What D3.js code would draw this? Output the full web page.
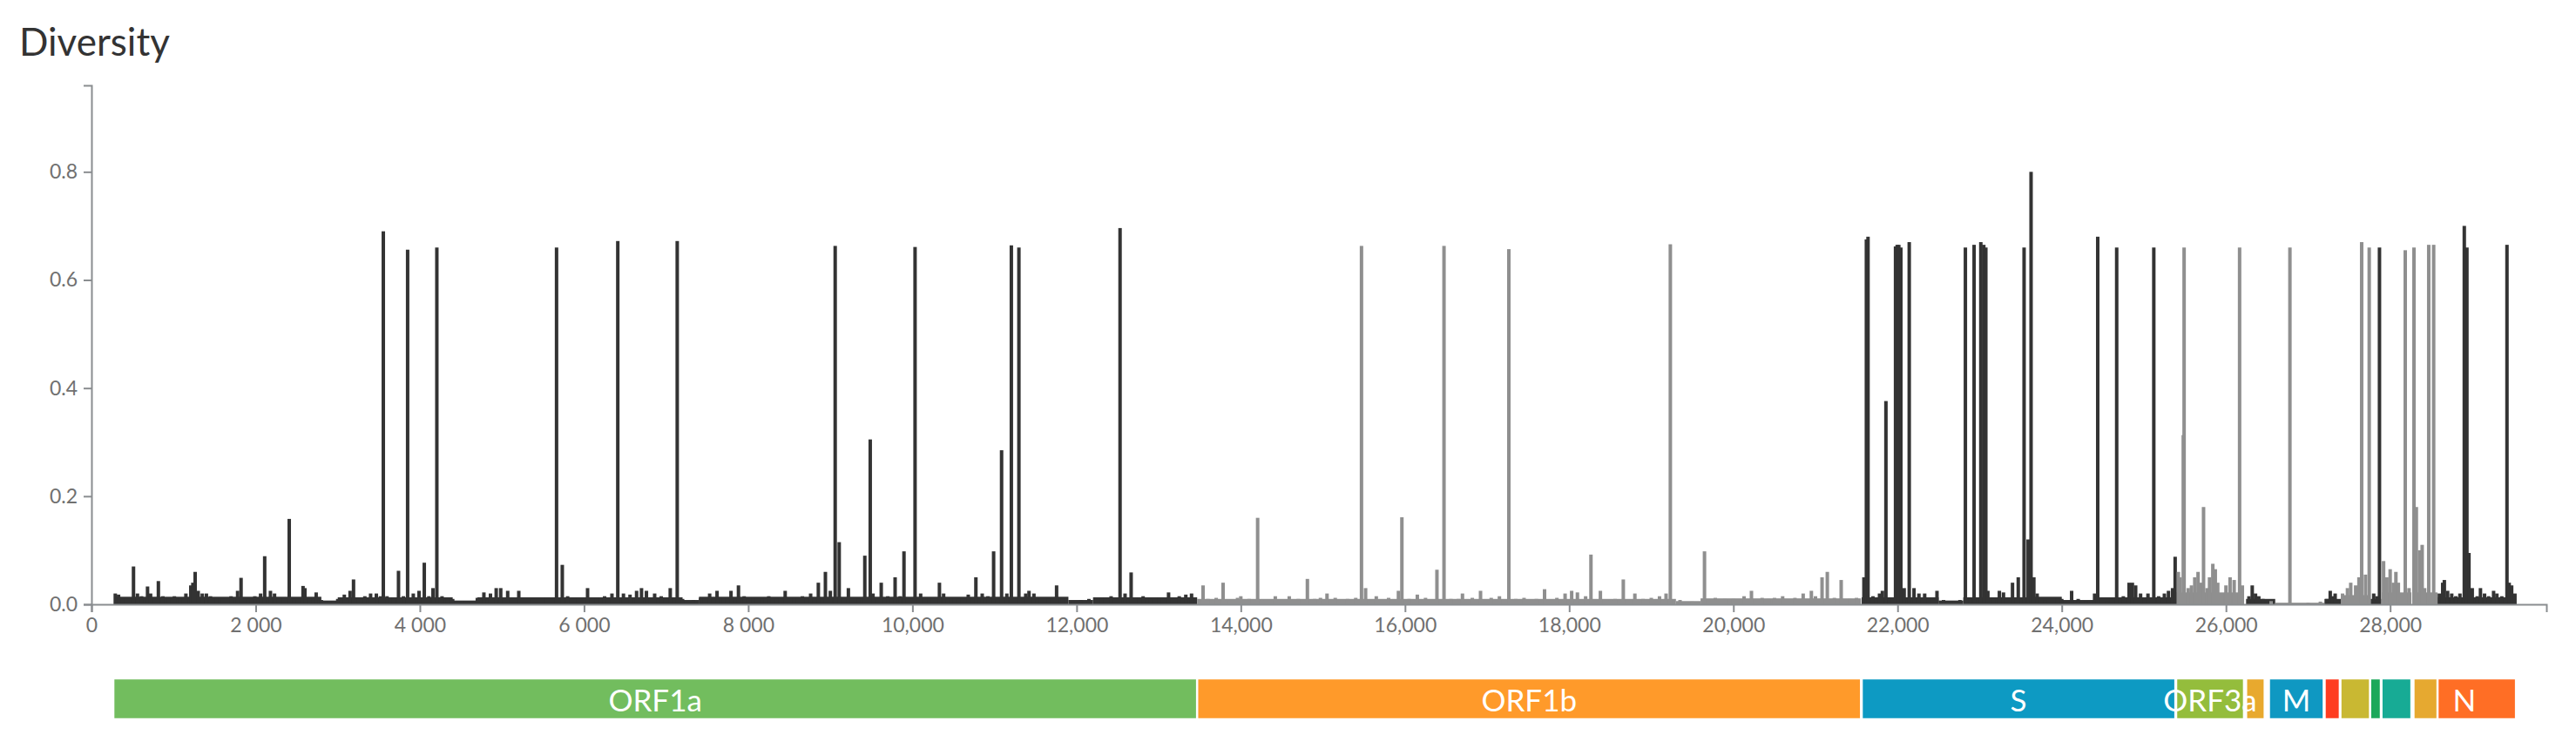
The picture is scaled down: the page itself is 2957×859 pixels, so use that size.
<!DOCTYPE html>
<html>
<head>
<meta charset="utf-8">
<script src="https://cdn.jsdelivr.net/npm/d3@7"></script>
<style>
  body { margin: 0; background: #fff; }
  #chart { width: 2957px; height: 859px; }
</style>
</head>
<body>
<div id="chart"></div>
<script>
// genome + gene annotations
const genomeLength = 29903;
const geneNames  = ["ORF1a", "ORF1b", "S", "ORF3a", "E", "M", "ORF6", "ORF7a", "ORF7b", "ORF8", "N", "ORF9b"];
const geneStart  = [266, 13468, 21563, 25393, 26245, 26523, 27202, 27394, 27756, 27894, 28274, 28284];
const geneEnd    = [13468, 21555, 25384, 26220, 26472, 27191, 27387, 27759, 27887, 28259, 29533, 28577];
const geneColors = ["#72bd5e", "#ff9a2a", "#0d9ac3", "#94bd3c", "#e8a92e", "#0f98c2", "#ff3d20", "#c9b832", "#1ca85a", "#17ab95", "#ff6e25", "#e6a930"];
const geneLabels = ["ORF1a", "ORF1b", "S", "ORF3a", "", "M", "", "", "", "", "N", ""];

// axis ticks
const xTicks = [0, 2000, 4000, 6000, 8000, 10000, 12000, 14000, 16000, 18000, 20000, 22000, 24000, 26000, 28000];
const xTickLabels = ["0", "2 000", "4 000", "6 000", "8 000", "10,000", "12,000", "14,000", "16,000", "18,000", "20,000", "22,000", "24,000", "26,000", "28,000"];
const yTicks = [0, 0.2, 0.4, 0.6, 0.8];
const yTickLabels = ["0.0", "0.2", "0.4", "0.6", "0.8"];

// low background level of diversity, by stretch of genome
const floorStart = [280, 2800, 3000, 4400, 4700, 7200, 7400, 11900, 12200, 13468, 19300, 19600, 21563, 22500, 22800, 23600, 24000, 24450, 25393, 26245, 26600, 27200, 27400, 27760, 27900, 28284, 28580];
const floorEnd   = [2800, 3000, 4400, 4700, 7200, 7400, 11900, 12200, 13468, 19300, 19600, 21555, 22500, 22800, 23600, 24000, 24450, 25384, 26220, 26600, 27200, 27400, 27760, 27890, 28259, 28577, 29530];
const floorVal   = [0.014, 0.007, 0.013, 0.007, 0.013, 0.008, 0.014, 0.008, 0.013, 0.010, 0.006, 0.011, 0.013, 0.007, 0.013, 0.014, 0.008, 0.013, 0.022, 0.010, 0.003, 0.010, 0.017, 0.010, 0.022, 0.022, 0.013];

// per-site diversity (entropy) bars
const sitePos = [
  290, 330, 380, 512, 560, 610, 683, 720, 815, 870, 940, 1010, 1080, 1150, 1210, 1235, 1263, 1300, 1350, 1400,
  1450, 1520, 1600, 1700, 1780, 1822, 1900, 1990, 2060, 2110, 2180, 2230, 2300, 2409, 2470, 2577, 2600, 2660, 2737, 2800,
  2900, 3000, 3080, 3150, 3192, 3250, 3330, 3400, 3470, 3520, 3555, 3600, 3680, 3740, 3800, 3851, 3920, 3990, 4054, 4110,
  4160, 4207, 4270, 4330, 4400, 4500, 4620, 4700, 4780, 4860, 4930, 4985, 5070, 5205, 5370, 5530, 5665, 5735, 5800, 5880,
  6043, 6150, 6250, 6340, 6411, 6480, 6560, 6640, 6700, 6760, 6860, 6940, 7050, 7135, 7200, 7330, 7420, 7530, 7620, 7700,
  7790, 7881, 7950, 8060, 8170, 8250, 8350, 8450, 8560, 8660, 8760, 8854, 8940, 9000, 9059, 9108, 9220, 9340, 9420, 9486,
  9520, 9620, 9700, 9789, 9850, 9897, 10032, 10100, 10200, 10329, 10380, 10470, 10560, 10680, 10773, 10850, 10920, 10989, 11086, 11150,
  11205, 11297, 11380, 11420, 11480, 11560, 11660, 11756, 11830, 11950, 12050, 12150, 12300, 12420, 12529, 12590, 12664, 12720, 12810, 12900,
  13000, 13120, 13250, 13330, 13400, 13540, 13600, 13700, 13784, 13850, 13960, 14000, 14100, 14205, 14260, 14420, 14590, 14700, 14811, 14900,
  14970, 15050, 15150, 15300, 15400, 15470, 15520, 15650, 15800, 15920, 15962, 16050, 16150, 16250, 16389, 16475, 16560, 16650, 16700, 16820,
  16920, 17050, 17150, 17265, 17350, 17450, 17600, 17700, 17850, 17950, 18030, 18100, 18200, 18265, 18380, 18500, 18560, 18659, 18800, 18900,
  19000, 19100, 19180, 19232, 19350, 19500, 19648, 19780, 19900, 20000, 20130, 20220, 20350, 20430, 20500, 20600, 20750, 20850, 20950, 21000,
  21080, 21144, 21230, 21313, 21420, 21500, 21590, 21620, 21640, 21700, 21780, 21815, 21858, 21900, 21975, 21995, 22015, 22040, 22080, 22142,
  22200, 22260, 22330, 22370, 22480, 22560, 22650, 22760, 22826, 22880, 22932, 23014, 23050, 23075, 23100, 23170, 23240, 23290, 23400, 23470,
  23541, 23590, 23626, 23660, 23700, 23800, 23900, 24000, 24120, 24200, 24300, 24400, 24438, 24550, 24600, 24669, 24750, 24820, 24860, 24900,
  24960, 25050, 25121, 25180, 25250, 25300, 25350, 25381, 25420, 25440, 25480, 25490, 25540, 25580, 25620, 25660, 25700, 25727, 25770, 25800,
  25840, 25870, 25900, 25950, 26000, 26050, 26100, 26166, 26200, 26280, 26320, 26360, 26400, 26450, 26500, 26550, 26779, 27000, 27150, 27230,
  27270, 27300, 27330, 27420, 27480, 27520, 27580, 27620, 27653, 27700, 27745, 27800, 27840, 27870, 27920, 27960, 28000, 28040, 28070, 28100,
  28184, 28230, 28290, 28319, 28360, 28390, 28420, 28470, 28530, 28560, 28600, 28640, 28660, 28700, 28750, 28800, 28850, 28903, 28935, 28960,
  29000, 29060, 29100, 29150, 29200, 29260, 29300, 29360, 29423, 29450, 29480, 29520
];
const siteVal = [
  0.020, 0.018, 0.012, 0.070, 0.020, 0.015, 0.033, 0.020, 0.043, 0.015, 0.012, 0.015, 0.012, 0.020, 0.035, 0.040, 0.060, 0.025, 0.020, 0.020,
  0.015, 0.012, 0.010, 0.015, 0.025, 0.049, 0.010, 0.015, 0.020, 0.089, 0.025, 0.020, 0.012, 0.158, 0.010, 0.034, 0.030, 0.012, 0.022, 0.008,
  0.006, 0.010, 0.018, 0.025, 0.046, 0.012, 0.015, 0.020, 0.020, 0.015, 0.690, 0.015, 0.012, 0.062, 0.015, 0.656, 0.020, 0.025, 0.077, 0.015,
  0.030, 0.660, 0.015, 0.012, 0.010, 0.005, 0.006, 0.012, 0.022, 0.020, 0.030, 0.030, 0.025, 0.025, 0.010, 0.012, 0.660, 0.073, 0.015, 0.010,
  0.030, 0.012, 0.015, 0.020, 0.672, 0.020, 0.018, 0.025, 0.030, 0.025, 0.020, 0.015, 0.030, 0.672, 0.010, 0.008, 0.012, 0.020, 0.025, 0.012,
  0.025, 0.035, 0.015, 0.012, 0.010, 0.015, 0.010, 0.025, 0.012, 0.015, 0.020, 0.040, 0.060, 0.025, 0.663, 0.115, 0.030, 0.010, 0.090, 0.305,
  0.020, 0.040, 0.015, 0.050, 0.015, 0.098, 0.661, 0.020, 0.012, 0.040, 0.020, 0.012, 0.010, 0.018, 0.050, 0.020, 0.015, 0.098, 0.285, 0.020,
  0.664, 0.660, 0.020, 0.025, 0.020, 0.012, 0.010, 0.035, 0.012, 0.006, 0.008, 0.010, 0.012, 0.015, 0.696, 0.020, 0.059, 0.012, 0.015, 0.010,
  0.012, 0.022, 0.015, 0.018, 0.020, 0.035, 0.010, 0.012, 0.040, 0.008, 0.012, 0.015, 0.010, 0.160, 0.008, 0.015, 0.015, 0.010, 0.047, 0.010,
  0.012, 0.020, 0.012, 0.010, 0.012, 0.663, 0.030, 0.015, 0.012, 0.025, 0.161, 0.010, 0.018, 0.012, 0.064, 0.663, 0.010, 0.010, 0.020, 0.012,
  0.025, 0.012, 0.015, 0.657, 0.010, 0.012, 0.010, 0.028, 0.012, 0.020, 0.025, 0.022, 0.015, 0.092, 0.025, 0.008, 0.010, 0.046, 0.020, 0.010,
  0.012, 0.015, 0.020, 0.666, 0.008, 0.005, 0.098, 0.012, 0.010, 0.010, 0.015, 0.025, 0.012, 0.010, 0.012, 0.015, 0.012, 0.020, 0.025, 0.015,
  0.050, 0.060, 0.012, 0.045, 0.010, 0.012, 0.050, 0.675, 0.680, 0.015, 0.020, 0.025, 0.376, 0.010, 0.662, 0.665, 0.665, 0.660, 0.030, 0.670,
  0.030, 0.020, 0.020, 0.012, 0.025, 0.008, 0.005, 0.008, 0.660, 0.010, 0.665, 0.670, 0.665, 0.660, 0.025, 0.010, 0.025, 0.022, 0.040, 0.050,
  0.660, 0.120, 0.800, 0.050, 0.020, 0.008, 0.012, 0.010, 0.025, 0.010, 0.006, 0.020, 0.680, 0.005, 0.010, 0.660, 0.015, 0.040, 0.040, 0.035,
  0.020, 0.020, 0.660, 0.015, 0.020, 0.025, 0.030, 0.088, 0.060, 0.050, 0.313, 0.660, 0.030, 0.035, 0.050, 0.060, 0.040, 0.180, 0.030, 0.050,
  0.075, 0.065, 0.040, 0.020, 0.035, 0.050, 0.045, 0.660, 0.035, 0.015, 0.035, 0.020, 0.015, 0.010, 0.008, 0.006, 0.660, 0.003, 0.005, 0.010,
  0.025, 0.015, 0.020, 0.020, 0.030, 0.040, 0.035, 0.050, 0.670, 0.055, 0.660, 0.020, 0.015, 0.660, 0.080, 0.050, 0.065, 0.040, 0.060, 0.040,
  0.655, 0.030, 0.660, 0.180, 0.100, 0.110, 0.030, 0.665, 0.665, 0.020, 0.020, 0.040, 0.045, 0.025, 0.020, 0.015, 0.020, 0.700, 0.660, 0.095,
  0.030, 0.015, 0.030, 0.020, 0.015, 0.025, 0.020, 0.015, 0.665, 0.040, 0.035, 0.020
];

const darkBar = "#333333";
const lightBar = "#8f8f8f";
const axisColor = "#8a8d90";
const font = "Lato, 'Open Sans', sans-serif";

const W = 2957, H = 859;
const svg = d3.select("#chart").append("svg")
    .attr("width", W)
    .attr("height", H);

const x = d3.scaleLinear().domain([0, genomeLength]).range([105, 2923]);
const y = d3.scaleLinear().domain([0, d3.max(siteVal) * 1.2]).range([694, 98]);

// bars alternate dark / light by the gene they sit in (last matching gene wins)
const geneIndexAt = (pos) => {
    let idx = -1;
    geneNames.forEach((g, i) => { if (pos >= geneStart[i] && pos <= geneEnd[i]) idx = i; });
    return idx;
};
const barColor = (pos) => {
    const i = geneIndexAt(pos);
    return (i >= 0 && i % 2 === 1) ? lightBar : darkBar;
};

// title
svg.append("text")
    .attr("x", 22)
    .attr("y", 64)
    .style("font-family", font)
    .style("font-size", "44px")
    .style("fill", "#333")
    .text("Diversity");

// background level
svg.append("g").selectAll("rect")
    .data(floorVal.map((v, i) => ({start: floorStart[i], end: floorEnd[i], value: v})))
  .enter().append("rect")
    .attr("x", d => x(d.start))
    .attr("width", d => x(d.end) - x(d.start))
    .attr("y", d => y(d.value))
    .attr("height", d => y(0) - y(d.value))
    .attr("fill", d => barColor((d.start + d.end) / 2));

// site bars
svg.append("g").selectAll("rect")
    .data(siteVal.map((v, i) => ({pos: sitePos[i], value: v})))
  .enter().append("rect")
    .attr("x", d => x(d.pos) - 2)
    .attr("width", 4)
    .attr("y", d => y(d.value))
    .attr("height", d => y(0) - y(d.value))
    .attr("fill", d => barColor(d.pos));

// axes
const styleAxis = (g) => {
    g.select(".domain").attr("stroke", axisColor).attr("stroke-width", 2);
    g.selectAll(".tick line").attr("stroke", axisColor).attr("stroke-width", 2);
    g.selectAll(".tick text")
        .style("font-family", font)
        .style("font-size", "23px")
        .attr("fill", "#707070");
};

svg.append("g")
    .attr("transform", "translate(0," + y(0) + ")")
    .call(d3.axisBottom(x)
        .tickValues(xTicks)
        .tickFormat((d, i) => xTickLabels[i])
        .tickSize(9)
        .tickPadding(7))
    .call(styleAxis);

svg.append("g")
    .attr("transform", "translate(" + x(0) + ",0)")
    .call(d3.axisLeft(y)
        .tickValues(yTicks)
        .tickFormat((d, i) => yTickLabels[i])
        .tickSize(9)
        .tickPadding(7))
    .call(styleAxis);

// gene map
const genes = geneNames.map((g, i) => ({
    name: g, start: geneStart[i], end: geneEnd[i], color: geneColors[i], label: geneLabels[i]
}));
const geneTop = 779, geneHeight = 47;

const geneG = svg.append("g");
geneG.selectAll("rect")
    .data(genes)
  .enter().append("rect")
    .attr("x", d => x(d.start))
    .attr("width", d => x(d.end) - x(d.start))
    .attr("y", geneTop)
    .attr("height", geneHeight)
    .attr("fill", d => d.color)
    .attr("stroke", "#fff")
    .attr("stroke-width", 2.5);

geneG.selectAll("text")
    .data(genes.filter(d => d.label !== ""))
  .enter().append("text")
    .attr("x", d => (x(d.start) + x(d.end)) / 2)
    .attr("y", geneTop + geneHeight / 2)
    .attr("text-anchor", "middle")
    .attr("dominant-baseline", "central")
    .style("font-family", font)
    .style("font-size", "35px")
    .style("fill", "#fff")
    .text(d => d.label);
</script>
</body>
</html>
